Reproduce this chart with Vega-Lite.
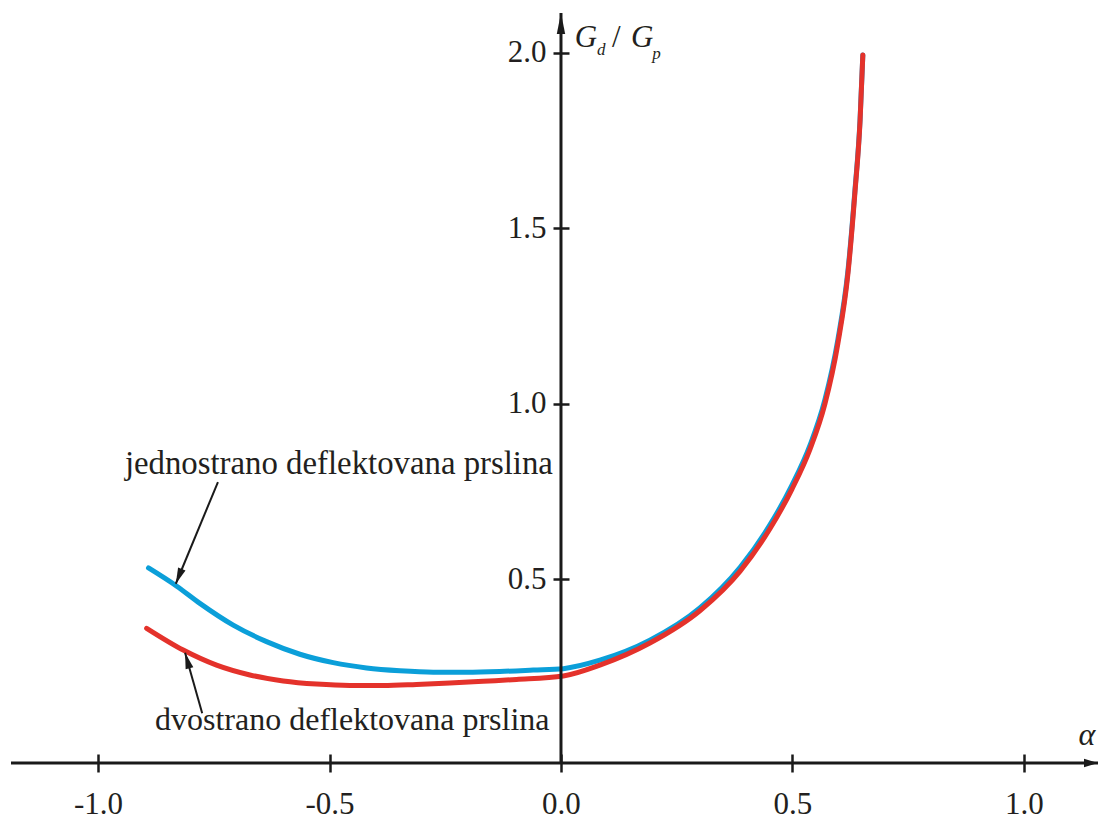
{
  "$schema": "https://vega.github.io/schema/vega-lite/v6.json",
  "width": 1087,
  "height": 750,
  "autosize": "none",
  "padding": {"left": 11, "top": 13, "right": 3, "bottom": 58},
  "background": "white",
  "config": {"view": {"stroke": null}, "font": "Liberation Serif"},
  "datasets": {
    "curves": [
      {"crack": "jednostrano", "alpha": -0.891, "g": 0.532},
      {"crack": "jednostrano", "alpha": -0.830, "g": 0.480},
      {"crack": "jednostrano", "alpha": -0.780, "g": 0.431},
      {"crack": "jednostrano", "alpha": -0.708, "g": 0.369},
      {"crack": "jednostrano", "alpha": -0.636, "g": 0.322},
      {"crack": "jednostrano", "alpha": -0.564, "g": 0.286},
      {"crack": "jednostrano", "alpha": -0.492, "g": 0.262},
      {"crack": "jednostrano", "alpha": -0.420, "g": 0.247},
      {"crack": "jednostrano", "alpha": -0.348, "g": 0.239},
      {"crack": "jednostrano", "alpha": -0.276, "g": 0.235},
      {"crack": "jednostrano", "alpha": -0.204, "g": 0.235},
      {"crack": "jednostrano", "alpha": -0.132, "g": 0.237},
      {"crack": "jednostrano", "alpha": -0.060, "g": 0.241},
      {"crack": "jednostrano", "alpha": 0.005, "g": 0.245},
      {"crack": "jednostrano", "alpha": 0.084, "g": 0.269},
      {"crack": "jednostrano", "alpha": 0.192, "g": 0.326},
      {"crack": "jednostrano", "alpha": 0.300, "g": 0.418},
      {"crack": "jednostrano", "alpha": 0.387, "g": 0.534},
      {"crack": "jednostrano", "alpha": 0.451, "g": 0.654},
      {"crack": "jednostrano", "alpha": 0.499, "g": 0.768},
      {"crack": "jednostrano", "alpha": 0.538, "g": 0.882},
      {"crack": "jednostrano", "alpha": 0.570, "g": 1.011},
      {"crack": "jednostrano", "alpha": 0.598, "g": 1.182},
      {"crack": "jednostrano", "alpha": 0.620, "g": 1.381},
      {"crack": "jednostrano", "alpha": 0.635, "g": 1.609},
      {"crack": "jednostrano", "alpha": 0.646, "g": 1.809},
      {"crack": "jednostrano", "alpha": 0.652, "g": 1.994},
      {"crack": "dvostrano", "alpha": -0.895, "g": 0.360},
      {"crack": "dvostrano", "alpha": -0.816, "g": 0.298},
      {"crack": "dvostrano", "alpha": -0.744, "g": 0.255},
      {"crack": "dvostrano", "alpha": -0.672, "g": 0.227},
      {"crack": "dvostrano", "alpha": -0.600, "g": 0.210},
      {"crack": "dvostrano", "alpha": -0.528, "g": 0.201},
      {"crack": "dvostrano", "alpha": -0.456, "g": 0.197},
      {"crack": "dvostrano", "alpha": -0.384, "g": 0.197},
      {"crack": "dvostrano", "alpha": -0.312, "g": 0.200},
      {"crack": "dvostrano", "alpha": -0.240, "g": 0.204},
      {"crack": "dvostrano", "alpha": -0.168, "g": 0.209},
      {"crack": "dvostrano", "alpha": -0.096, "g": 0.214},
      {"crack": "dvostrano", "alpha": 0.005, "g": 0.224},
      {"crack": "dvostrano", "alpha": 0.084, "g": 0.255},
      {"crack": "dvostrano", "alpha": 0.192, "g": 0.318},
      {"crack": "dvostrano", "alpha": 0.300, "g": 0.410},
      {"crack": "dvostrano", "alpha": 0.387, "g": 0.523},
      {"crack": "dvostrano", "alpha": 0.451, "g": 0.643},
      {"crack": "dvostrano", "alpha": 0.499, "g": 0.757},
      {"crack": "dvostrano", "alpha": 0.538, "g": 0.871},
      {"crack": "dvostrano", "alpha": 0.570, "g": 0.999},
      {"crack": "dvostrano", "alpha": 0.598, "g": 1.171},
      {"crack": "dvostrano", "alpha": 0.620, "g": 1.373},
      {"crack": "dvostrano", "alpha": 0.635, "g": 1.603},
      {"crack": "dvostrano", "alpha": 0.646, "g": 1.806},
      {"crack": "dvostrano", "alpha": 0.652, "g": 1.994}
    ],
    "one": [{}]
  },
  "layer": [
    {
      "data": {"name": "curves"},
      "transform": [{"filter": "datum.crack == 'jednostrano'"}],
      "mark": {"type": "line", "strokeWidth": 5, "strokeCap": "round", "color": "#0b9fd9", "interpolate": "monotone"},
      "encoding": {
        "x": {
          "field": "alpha", "type": "quantitative",
          "scale": {"domain": [-1.188, 1.16], "nice": false, "zero": false},
          "axis": {
            "orient": "bottom", "offset": -9, "domain": false, "grid": false,
            "values": [-1, -0.5, 0, 0.5, 1],
            "tickSize": 18, "tickWidth": 2.5, "tickColor": "#1a1a1a",
            "labelExpr": "(datum.value < 0 ? '-' : '') + format(abs(datum.value), '.1f')",
            "labelFont": "Liberation Serif", "labelFontSize": 31, "labelColor": "#231f20",
            "labelPadding": 17, "labelFlush": false, "labelOverlap": false, "labelBound": false,
            "title": null
          }
        },
        "y": {
          "field": "g", "type": "quantitative",
          "scale": {"domain": [-0.024, 2.114], "nice": false, "zero": false},
          "axis": {
            "orient": "left", "offset": -558, "domain": false, "grid": false,
            "values": [0.5, 1, 1.5, 2],
            "tickSize": 16, "tickWidth": 2.5, "tickColor": "#1a1a1a",
            "format": ".1f",
            "labelFont": "Liberation Serif", "labelFontSize": 31, "labelColor": "#231f20",
            "labelPadding": 7, "labelFlush": false, "labelOverlap": false, "labelBound": false,
            "title": null
          }
        }
      }
    },
    {
      "data": {"name": "curves"},
      "transform": [{"filter": "datum.crack == 'dvostrano'"}],
      "mark": {"type": "line", "strokeWidth": 5, "strokeCap": "round", "color": "#e4322b", "interpolate": "monotone"},
      "encoding": {
        "x": {"field": "alpha", "type": "quantitative"},
        "y": {"field": "g", "type": "quantitative"}
      }
    },
    {
      "data": {"name": "one"},
      "mark": {"type": "rule", "strokeWidth": 3, "color": "#1a1a1a"},
      "encoding": {"x": {"datum": 0}}
    },
    {
      "data": {"name": "one"},
      "mark": {"type": "rule", "strokeWidth": 3, "color": "#1a1a1a"},
      "encoding": {"y": {"datum": -0.024}}
    },
    {
      "data": {"name": "one"},
      "mark": {"type": "point", "shape": "M0,0L0.2,1L-0.2,1Z", "size": 1764, "filled": true, "opacity": 1, "color": "#1a1a1a", "strokeWidth": 0},
      "encoding": {"x": {"datum": 0}, "y": {"datum": 2.114}}
    },
    {
      "data": {"name": "one"},
      "mark": {"type": "point", "shape": "M0,0L0.3,1L-0.3,1Z", "size": 784, "filled": true, "opacity": 1, "color": "#1a1a1a", "strokeWidth": 0, "angle": 90},
      "encoding": {"x": {"datum": 1.16}, "y": {"datum": -0.024}}
    },
    {
      "data": {"name": "one"},
      "mark": {"type": "rule", "strokeWidth": 2, "color": "#1a1a1a"},
      "encoding": {"x": {"datum": -0.741}, "y": {"datum": 0.777}, "x2": {"datum": -0.832}, "y2": {"datum": 0.487}}
    },
    {
      "data": {"name": "one"},
      "mark": {"type": "point", "shape": "M0,0L0.25,1L-0.25,1Z", "size": 1024, "filled": true, "opacity": 1, "color": "#1a1a1a", "strokeWidth": 0, "angle": 202},
      "encoding": {"x": {"datum": -0.832}, "y": {"datum": 0.487}}
    },
    {
      "data": {"name": "one"},
      "mark": {"type": "rule", "strokeWidth": 2, "color": "#1a1a1a"},
      "encoding": {"x": {"datum": -0.775}, "y": {"datum": 0.118}, "x2": {"datum": -0.812}, "y2": {"datum": 0.29}}
    },
    {
      "data": {"name": "one"},
      "mark": {"type": "point", "shape": "M0,0L0.25,1L-0.25,1Z", "size": 1024, "filled": true, "opacity": 1, "color": "#1a1a1a", "strokeWidth": 0, "angle": 344},
      "encoding": {"x": {"datum": -0.812}, "y": {"datum": 0.29}}
    },
    {
      "data": {"name": "one"},
      "mark": {"type": "text", "text": "jednostrano deflektovana prslina", "font": "Liberation Serif", "fontSize": 32.8, "align": "left", "baseline": "alphabetic", "color": "#231f20"},
      "encoding": {"x": {"datum": -0.942}, "y": {"datum": 0.800}}
    },
    {
      "data": {"name": "one"},
      "mark": {"type": "text", "text": "dvostrano deflektovana prslina", "font": "Liberation Serif", "fontSize": 32, "align": "left", "baseline": "alphabetic", "color": "#231f20"},
      "encoding": {"x": {"datum": -0.877}, "y": {"datum": 0.070}}
    },
    {
      "data": {"name": "one"},
      "mark": {"type": "text", "text": "α", "font": "Liberation Serif", "fontStyle": "italic", "fontSize": 32, "align": "left", "baseline": "alphabetic", "color": "#231f20"},
      "encoding": {"x": {"datum": 1.118}, "y": {"datum": 0.027}}
    },
    {
      "data": {"name": "one"},
      "mark": {"type": "text", "text": "G", "font": "Liberation Serif", "fontStyle": "italic", "fontSize": 31, "align": "left", "baseline": "alphabetic", "color": "#231f20"},
      "encoding": {"x": {"datum": 0.030}, "y": {"datum": 2.017}}
    },
    {
      "data": {"name": "one"},
      "mark": {"type": "text", "text": "d", "font": "Liberation Serif", "fontStyle": "italic", "fontSize": 17, "align": "left", "baseline": "alphabetic", "color": "#231f20"},
      "encoding": {"x": {"datum": 0.078}, "y": {"datum": 1.994}}
    },
    {
      "data": {"name": "one"},
      "mark": {"type": "text", "text": "/", "font": "Liberation Serif", "fontSize": 31, "align": "left", "baseline": "alphabetic", "color": "#231f20"},
      "encoding": {"x": {"datum": 0.110}, "y": {"datum": 2.017}}
    },
    {
      "data": {"name": "one"},
      "mark": {"type": "text", "text": "G", "font": "Liberation Serif", "fontStyle": "italic", "fontSize": 31, "align": "left", "baseline": "alphabetic", "color": "#231f20"},
      "encoding": {"x": {"datum": 0.151}, "y": {"datum": 2.017}}
    },
    {
      "data": {"name": "one"},
      "mark": {"type": "text", "text": "p", "font": "Liberation Serif", "fontStyle": "italic", "fontSize": 17, "align": "left", "baseline": "alphabetic", "color": "#231f20"},
      "encoding": {"x": {"datum": 0.197}, "y": {"datum": 1.983}}
    }
  ]
}
